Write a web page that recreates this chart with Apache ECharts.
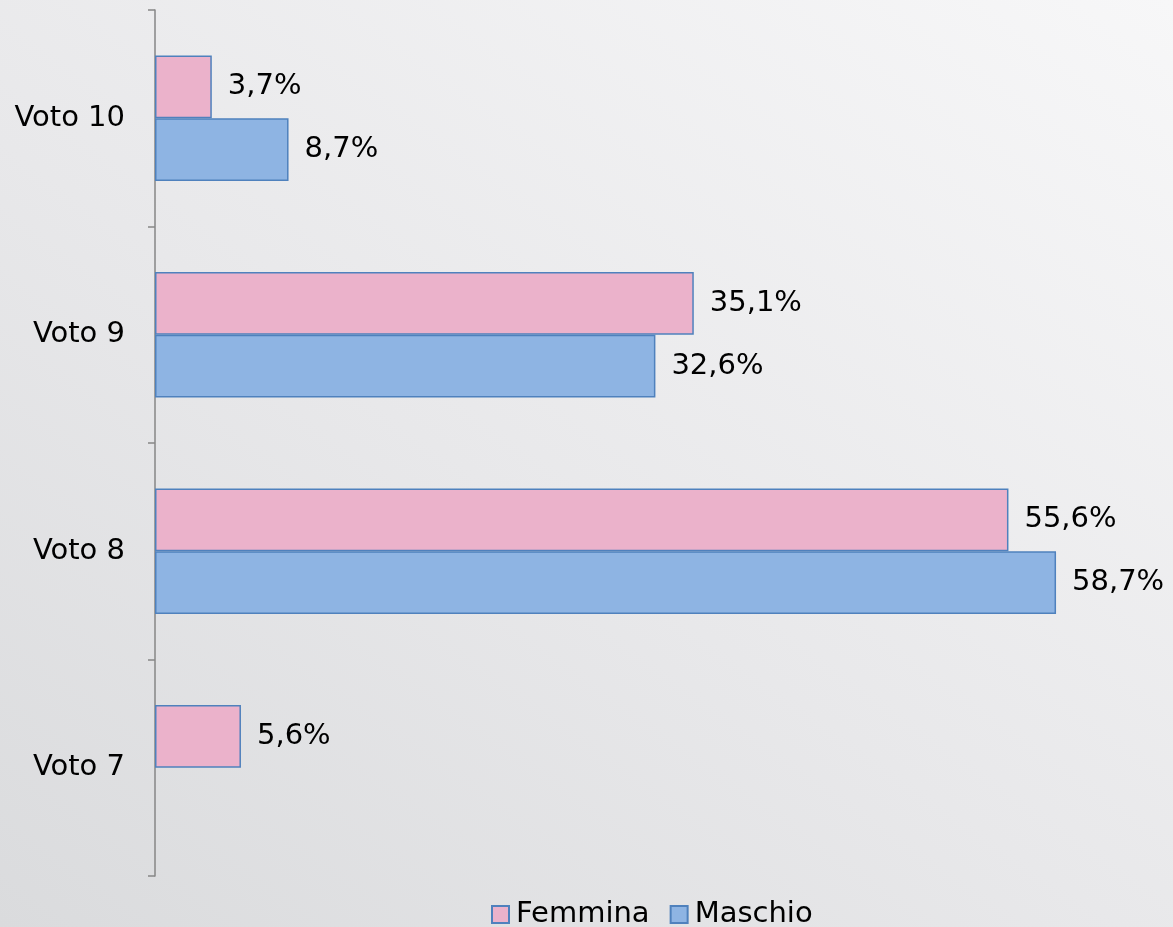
<!DOCTYPE html>
<html>
<head>
<meta charset="utf-8">
<script src="https://cdn.jsdelivr.net/npm/echarts@6/dist/echarts.min.js"></script>
<style>
html,body{margin:0;padding:0;}
#chart{width:1173px;height:927px;background:linear-gradient(35deg,#dadbdd 0%,#e8e8ea 45%,#f7f7f8 100%);}
</style>
</head>
<body>
<div id="chart"></div>
<script>
const categories = ['Voto 10', 'Voto 9', 'Voto 8', 'Voto 7'];
const seriesNames = ['Femmina', 'Maschio'];
const femmina = [3.7, 35.1, 55.6, 5.6];
const maschio = [8.7, 32.6, 58.7, null];

const fontFam = 'DejaVu Sans';
const fmt = p => p.value == null ? '' : p.value.toFixed(1).replace('.', ',') + '%';

const chart = echarts.init(document.getElementById('chart'), null, {renderer: 'canvas'});
chart.setOption({
  backgroundColor: 'transparent',
  animation: false,
  legend: {
    bottom: -7,
    left: 486,
    icon: 'rect',
    itemWidth: 17,
    itemHeight: 17,
    itemGap: 20,
    textStyle: {fontFamily: fontFam, fontSize: 29, color: '#000', padding: [0, 0, 0, 2]},
    data: seriesNames
  },
  grid: {left: 155, top: 10, bottom: 51, width: 921, containLabel: false},
  xAxis: {
    type: 'value', min: 0, max: 60, show: false
  },
  yAxis: {
    type: 'category',
    inverse: true,
    data: categories,
    axisLine: {show: true, lineStyle: {color: '#868686', width: 1.5}},
    axisTick: {show: true, length: 7, lineStyle: {color: '#868686', width: 1.5}},
    axisLabel: {fontFamily: fontFam, fontSize: 29, color: '#000', margin: 30}
  },
  series: [
    {
      name: seriesNames[0], type: 'bar', data: femmina,
      barGap: 0, barCategoryGap: '42%',
      itemStyle: {color: '#ebb2cb', borderColor: '#4f81bd', borderWidth: 1.5},
      label: {show: true, position: 'right', distance: 16, fontFamily: fontFam, fontSize: 29, color: '#000', formatter: fmt}
    },
    {
      name: seriesNames[1], type: 'bar', data: maschio,
      barGap: 0, barCategoryGap: '42%',
      itemStyle: {color: '#8eb4e3', borderColor: '#4f81bd', borderWidth: 1.5},
      label: {show: true, position: 'right', distance: 16, fontFamily: fontFam, fontSize: 29, color: '#000', formatter: fmt}
    }
  ]
});
</script>
</body>
</html>
